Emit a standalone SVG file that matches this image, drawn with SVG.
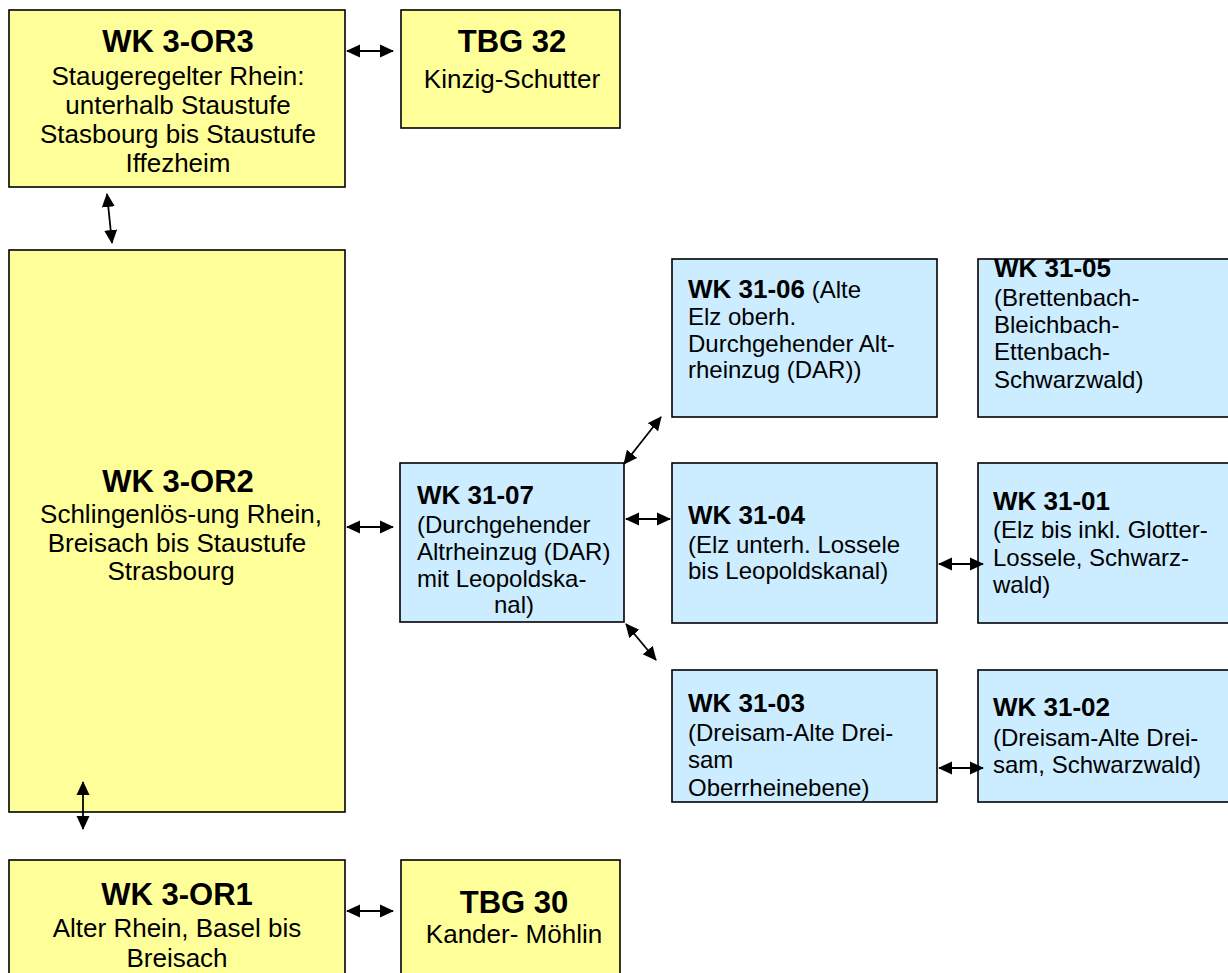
<svg xmlns="http://www.w3.org/2000/svg" width="1228" height="973" viewBox="0 0 1228 973">
<style>
.y{fill:#FFFF99;stroke:#000;stroke-width:1.6}
.b{fill:#CCECFF;stroke:#000;stroke-width:1.6}
text{font-family:"Liberation Sans",Arial,sans-serif;fill:#000}
.c{text-anchor:middle}
.t{font-size:31px;font-weight:bold}
.s{font-size:26px}
.bs{font-size:24px}
.bt{font-size:26px;font-weight:bold}
.k{stroke:#000;stroke-width:1.8;fill:none;marker-start:url(#ah);marker-end:url(#ah)}
</style>
<defs>
<marker id="ah" markerUnits="userSpaceOnUse" markerWidth="14" markerHeight="14" viewBox="0 0 14 14" refX="13" refY="7" orient="auto-start-reverse">
<path d="M0,0.5 L14,7 L0,13.5 Z" fill="#000"/>
</marker>
</defs>
<rect width="1228" height="973" fill="#fff"/>
<g id="or3">
<rect class="y" x="9" y="10" width="336" height="177"/>
<text class="c t" x="178" y="52">WK 3-OR3</text>
<text class="c s" x="178" y="85">Staugeregelter Rhein:</text>
<text class="c s" x="178" y="114">unterhalb Staustufe</text>
<text class="c s" x="178" y="143">Stasbourg bis Staustufe</text>
<text class="c s" x="178" y="172">Iffezheim</text>
</g>
<g id="tbg32">
<rect class="y" x="401" y="10" width="219" height="118"/>
<text class="c t" x="512" y="52">TBG 32</text>
<text class="c s" x="512" y="88">Kinzig-Schutter</text>
</g>
<g id="or2">
<rect class="y" x="9" y="250" width="336" height="562"/>
<text class="c t" x="178" y="492">WK 3-OR2</text>
<text class="c s" x="181" y="523">Schlingenlös-ung Rhein,</text>
<text class="c s" x="177" y="552">Breisach bis Staustufe</text>
<text class="c s" x="171" y="580">Strasbourg</text>
</g>
<g id="or1">
<rect class="y" x="9" y="860" width="336" height="130"/>
<text class="c t" x="177" y="905">WK 3-OR1</text>
<text class="c s" x="177" y="937">Alter Rhein, Basel bis</text>
<text class="c s" x="177" y="967">Breisach</text>
</g>
<g id="tbg30">
<rect class="y" x="401" y="860" width="219" height="130"/>
<text class="c t" x="514" y="913">TBG 30</text>
<text class="c s" x="514" y="943">Kander- Möhlin</text>
</g>
<g id="wk3107">
<rect class="b" x="400" y="463" width="224" height="159"/>
<text class="bt" x="417" y="504">WK 31-07</text>
<text class="bs" x="417" y="533">(Durchgehender</text>
<text class="bs" x="417" y="560">Altrheinzug (DAR)</text>
<text class="bs" x="417" y="587">mit Leopoldska-</text>
<text class="bs" x="494" y="613">nal)</text>
</g>
<g id="wk3106">
<rect class="b" x="672" y="259" width="265" height="158"/>
<text class="bs" x="688" y="298"><tspan class="bt">WK 31-06</tspan> (Alte</text>
<text class="bs" x="688" y="325">Elz oberh.</text>
<text class="bs" x="688" y="352">Durchgehender Alt-</text>
<text class="bs" x="688" y="378">rheinzug (DAR))</text>
</g>
<g id="wk3105">
<rect class="b" x="978" y="259" width="262" height="158"/>
<text class="bt" x="994" y="277">WK 31-05</text>
<text class="bs" x="994" y="306">(Brettenbach-</text>
<text class="bs" x="994" y="333">Bleichbach-</text>
<text class="bs" x="994" y="360">Ettenbach-</text>
<text class="bs" x="994" y="388">Schwarzwald)</text>
</g>
<g id="wk3104">
<rect class="b" x="672" y="463" width="265" height="160"/>
<text class="bt" x="688" y="524">WK 31-04</text>
<text class="bs" x="688" y="553">(Elz unterh. Lossele</text>
<text class="bs" x="688" y="579">bis Leopoldskanal)</text>
</g>
<g id="wk3101">
<rect class="b" x="978" y="463" width="262" height="160"/>
<text class="bt" x="993" y="510">WK 31-01</text>
<text class="bs" x="993" y="538">(Elz bis inkl. Glotter-</text>
<text class="bs" x="993" y="566">Lossele, Schwarz-</text>
<text class="bs" x="993" y="593">wald)</text>
</g>
<g id="wk3103">
<rect class="b" x="672" y="670" width="265" height="132"/>
<text class="bt" x="688" y="712">WK 31-03</text>
<text class="bs" x="688" y="741">(Dreisam-Alte Drei-</text>
<text class="bs" x="688" y="768">sam</text>
<text class="bs" x="688" y="796">Oberrheinebene)</text>
</g>
<g id="wk3102">
<rect class="b" x="978" y="670" width="262" height="132"/>
<text class="bt" x="993" y="716">WK 31-02</text>
<text class="bs" x="993" y="746">(Dreisam-Alte Drei-</text>
<text class="bs" x="993" y="773">sam, Schwarzwald)</text>
</g>
<g id="connectors">
<line class="k" x1="347" y1="51" x2="393" y2="51"/>
<line class="k" x1="107" y1="194" x2="112" y2="243"/>
<line class="k" x1="347" y1="527" x2="393" y2="527"/>
<line class="k" x1="624" y1="464" x2="661" y2="417"/>
<line class="k" x1="626" y1="519" x2="670" y2="519"/>
<line class="k" x1="626" y1="624" x2="656" y2="660"/>
<line class="k" x1="939" y1="564" x2="983" y2="564"/>
<line class="k" x1="939" y1="768" x2="983" y2="768"/>
<line class="k" x1="83" y1="782" x2="83" y2="829"/>
<line class="k" x1="347" y1="911" x2="393" y2="911"/>
</g>
</svg>
